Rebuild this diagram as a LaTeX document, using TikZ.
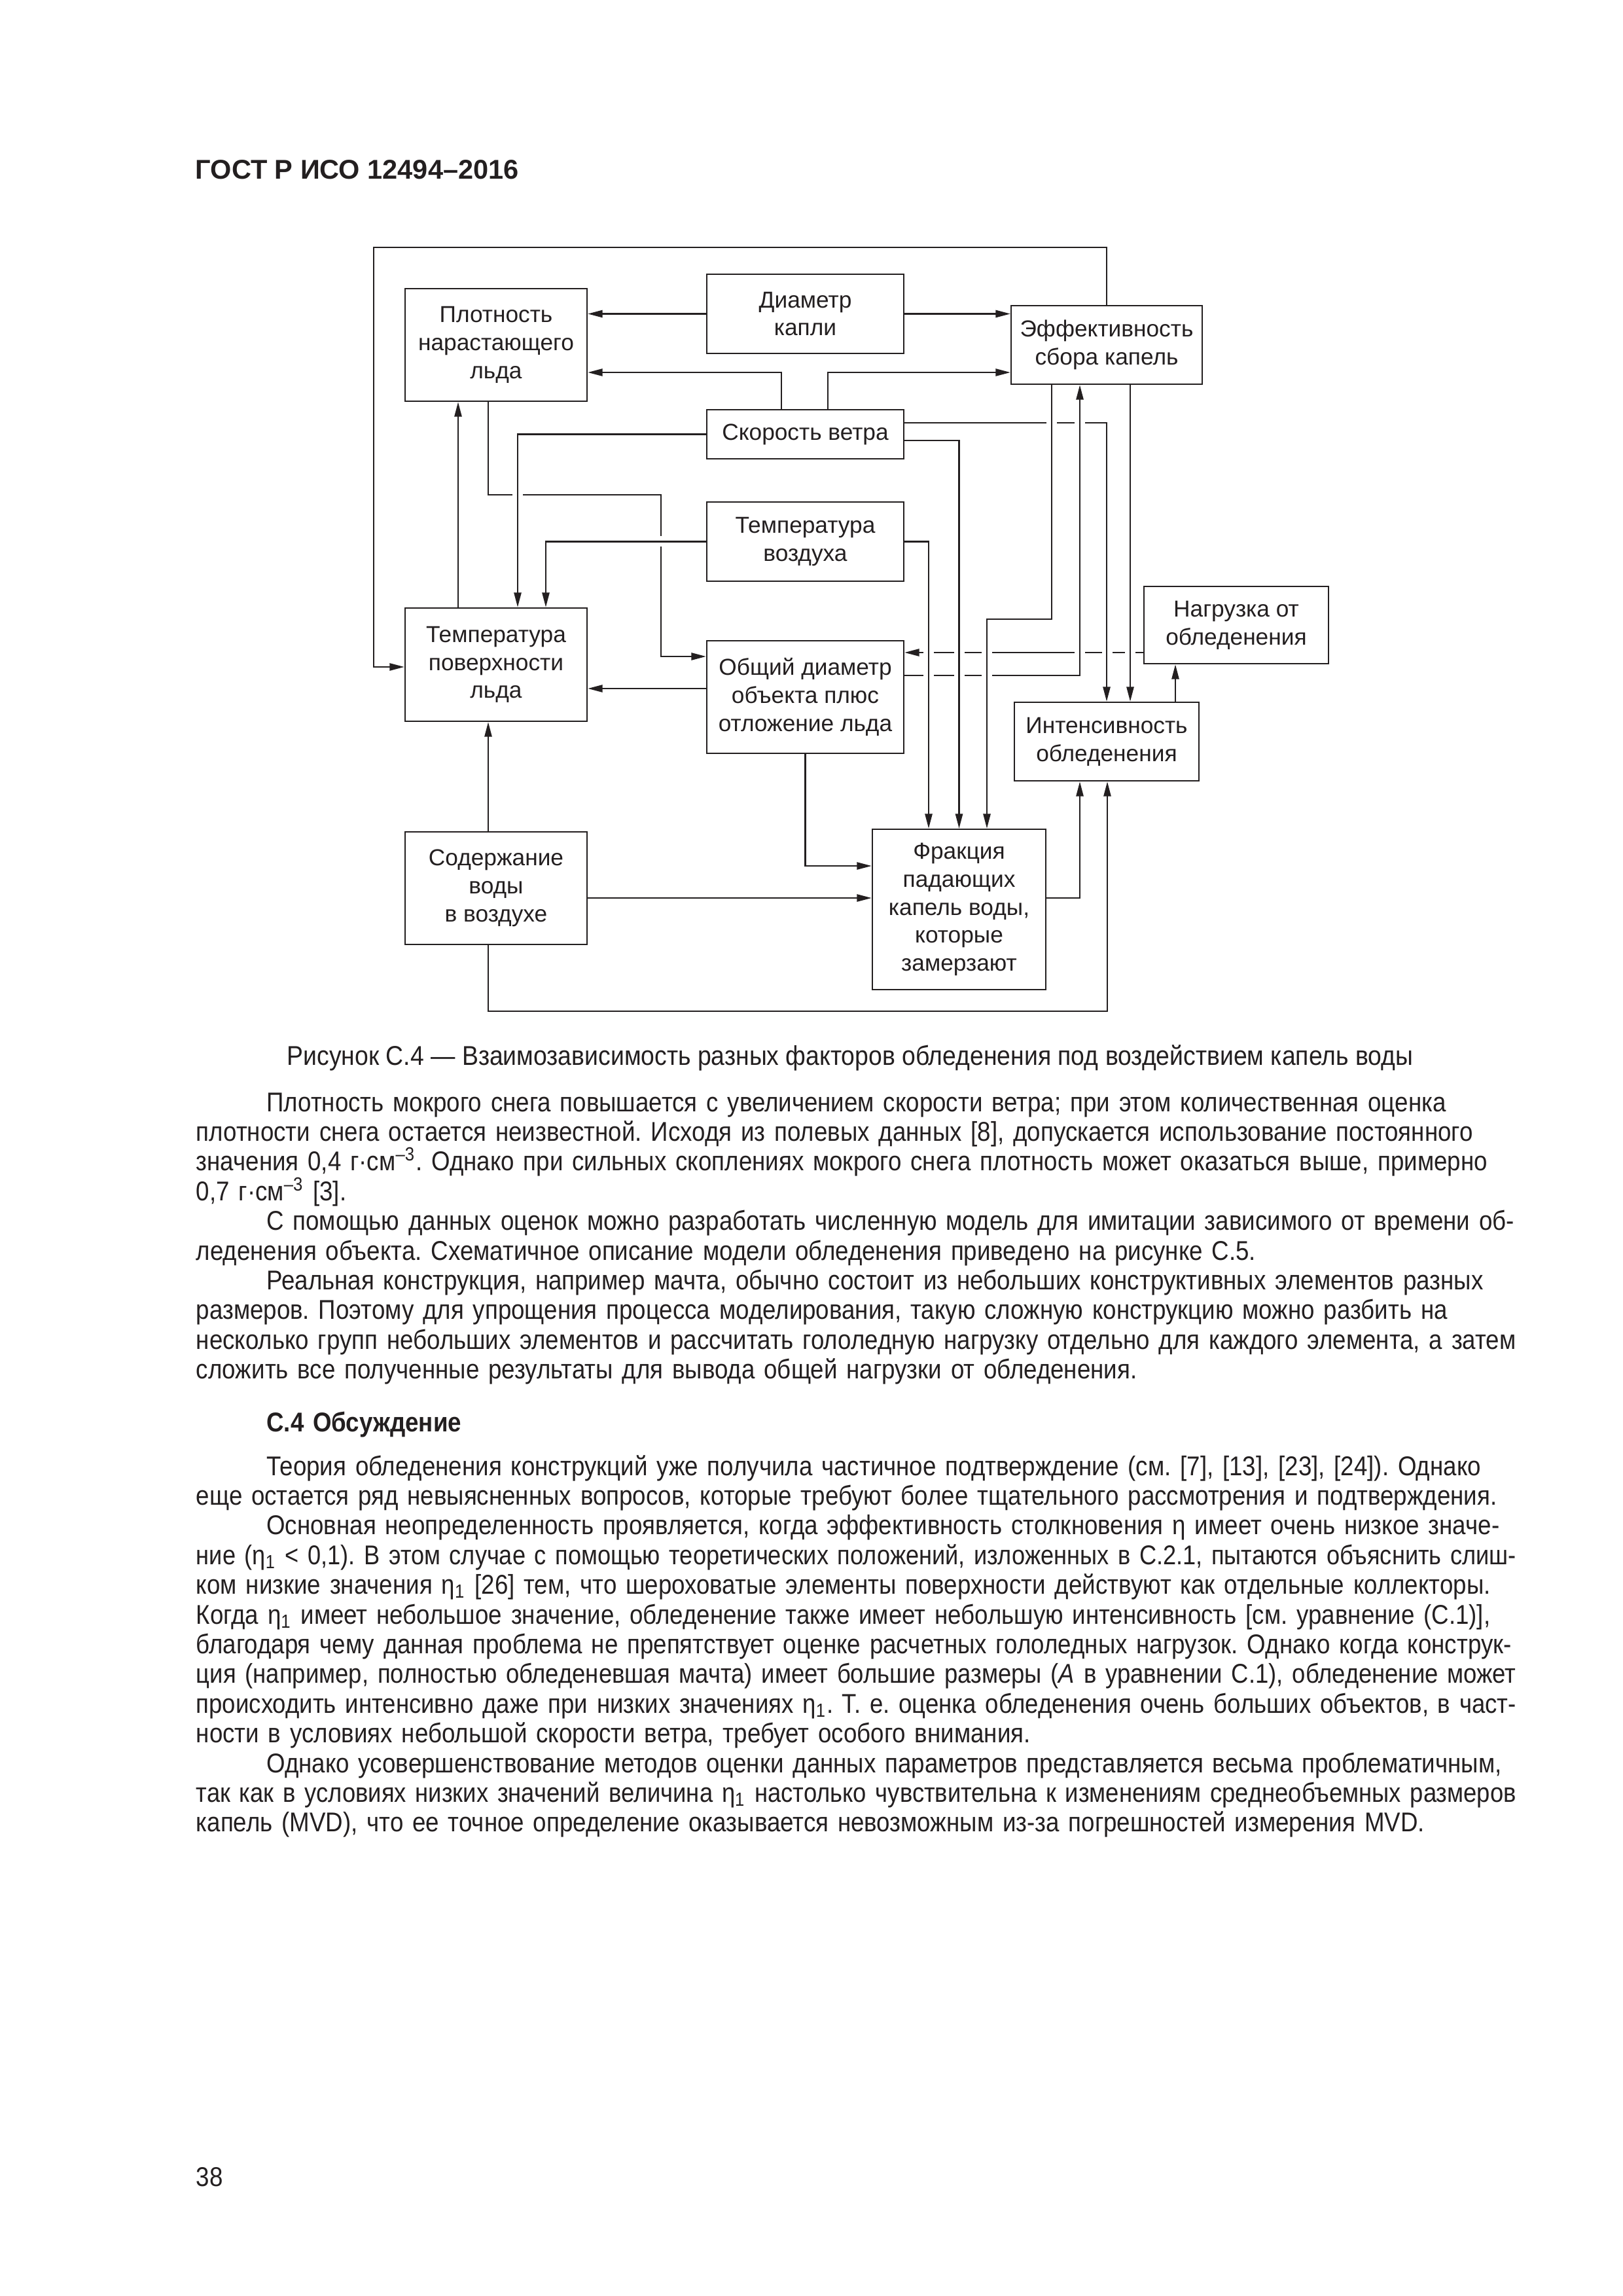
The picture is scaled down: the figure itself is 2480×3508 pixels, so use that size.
\documentclass[tikz,border=0pt]{standalone}
\usepackage{graphicx}
\usepackage{fontspec}
\setmainfont{Liberation Sans}
\newfontfamily\bodyfont[FakeStretch=0.884]{Liberation Sans}
\newfontfamily\captionfont[FakeStretch=0.9]{Liberation Sans}
\usetikzlibrary{arrows.meta}
\definecolor{ink}{HTML}{231F20}
\frenchspacing
\newlength\firstindent
\setlength\firstindent{9.1mm}
\newcommand\bodyspace{\spaceskip 0.24em plus 0.4em minus 0.08em\relax}
% one printed line of the page text, squeezed a little if it is too long
\newcommand\fitline[2]{\setbox0\hbox{\hskip#1#2}%
  \ifdim\wd0>\linewidth \hbox{\resizebox{\linewidth}{\height}{\box0}}%
  \else \hbox to\linewidth{\hskip#1#2}\fi}
\newcommand\iline[1]{\fitline{\firstindent}{#1}}
\newcommand\jline[1]{\fitline{0pt}{#1}}
\newcommand\eline[1]{\hbox to\linewidth{#1\hfil}}
% white break where a line passes under another one
\newcommand\hgap[2]{\fill[white] (#1-8,#2-4) rectangle (#1+8,#2+4);}
\newcommand\vgap[2]{\fill[white] (#1-4,#2-8) rectangle (#1+4,#2+8);}
\tikzset{
  box/.style={draw=ink, line width=0.6pt, align=center, inner sep=0pt,
    text=ink, font=\fontsize{8.5}{10.3}\selectfont},
  link/.style={draw=ink, line width=0.5pt, -{Triangle[length=1.9mm,width=0.95mm]}},
  pagetext/.style={text=ink, inner sep=0pt,
    font=\bodyfont\fontsize{10}{10.94}\selectfont\bodyspace}
}
\begin{document}
\begin{tikzpicture}[x=0.0846667mm, y=-0.0846667mm]
  \useasboundingbox (0,0) rectangle (2480,3508);
  \node[text=ink, inner sep=0pt, anchor=base west, font=\fontsize{10}{12}\selectfont\bfseries]
    (title) at (298,273) {ГОСТ Р ИСО 12494–2016};

  % blocks
  \node[box, minimum width=23.54mm, minimum height=14.56mm] (plot) at (758,527) {Плотность\\нарастающего\\льда};
  \node[box, minimum width=25.48mm, minimum height=10.24mm] (diam) at (1230.5,479.5) {Диаметр\\капли};
  \node[box, minimum width=24.72mm, minimum height=10.16mm] (eff) at (1691,527) {Эффективность\\сбора капель};
  \node[box, minimum width=25.48mm, minimum height=6.35mm] (wind) at (1230.5,663.5) {Скорость ветра};
  \node[box, minimum width=25.48mm, minimum height=10.24mm] (tair) at (1230.5,827.5) {Температура\\воздуха};
  \node[box, minimum width=23.54mm, minimum height=14.65mm] (tsurf) at (758,1015.5) {Температура\\поверхности\\льда};
  \node[box, minimum width=25.48mm, minimum height=14.56mm] (diamobj) at (1230.5,1065) {Общий диаметр\\объекта плюс\\отложение льда};
  \node[box, minimum width=23.88mm, minimum height=9.99mm] (load) at (1889,955) {Нагрузка от\\обледенения};
  \node[box, minimum width=23.88mm, minimum height=10.16mm] (rate) at (1691,1133) {Интенсивность\\обледенения};
  \node[box, minimum width=23.54mm, minimum height=14.56mm] (water) at (758,1357) {Содержание\\воды\\в воздухе};
  \node[box, minimum width=22.44mm, minimum height=20.74mm] (frac) at (1465.5,1389.5) {Фракция\\падающих\\капель воды,\\которые\\замерзают};

  \begin{scope}[link]
    % lines that are broken where others pass
    \draw (load.west |- 0,997) -- (diamobj.east |- 0,997);
    \hgap{1419}{997} \hgap{1466}{997} \hgap{1508}{997}
    \hgap{1650}{997} \hgap{1692}{997} \hgap{1727}{997}
    \draw (wind.east |- 0,646) -| (rate.north);
    \hgap{1607}{646} \hgap{1650}{646}
    \draw (diamobj.east |- 0,1032) -| (eff.south -| 1650,0);
    \hgap{1419}{1032} \hgap{1466}{1032} \hgap{1508}{1032}
    \draw (plot.south -| 746,0) |- (1010,756) |- (diamobj.west |- 0,1003);
    \hgap{791}{756} \vgap{1010}{827}
    % the others
    \draw (eff.north) |- (571,378) |- (tsurf.west |- 0,1019);
    \draw (diam.west) -- (diam.west -| plot.east);
    \draw (diam.east) -- (diam.east -| eff.west);
    \draw (wind.north -| 1194,0) |- (plot.east |- 0,569);
    \draw (wind.north -| 1265,0) |- (eff.west |- 0,569);
    \draw (wind.west) -| (tsurf.north -| 791,0);
    \draw (wind.east |- 0,673) -| (frac.north);
    \draw (tsurf.north -| 700,0) -- (plot.south -| 700,0);
    \draw (tair.west) -| (tsurf.north -| 834,0);
    \draw (tair.east) -| (frac.north -| 1419,0);
    \draw (diamobj.west |- 0,1052) -- (tsurf.east |- 0,1052);
    \draw (eff.south -| 1607,0) |- (1508,946) -- (frac.north -| 1508,0);
    \draw (eff.south -| 1727,0) -- (rate.north -| 1727,0);
    \draw (rate.north -| 1796,0) -- (load.south -| 1796,0);
    \draw (water.north -| 746,0) -- (tsurf.south -| 746,0);
    \draw (water.east |- 0,1372) -- (frac.west |- 0,1372);
    \draw (water.south -| 746,0) |- (1692,1545) -- (rate.south -| 1692,0);
    \draw (frac.east |- 0,1372) -| (rate.south -| 1650,0);
    \draw (diamobj.south) |- (frac.west |- 0,1323);
  \end{scope}

  \node[text=ink, inner sep=0pt, anchor=base, font=\captionfont\fontsize{10}{12}\selectfont] (caption) at (1299,1627)
    {Рисунок С.4 — Взаимозависимость разных факторов обледенения под воздействием капель воды};

  \node[pagetext, anchor=base west, text width=170.77mm] (body) at (299,1698) {%
    \iline{Плотность мокрого снега повышается с увеличением скорости ветра; при этом количественная оценка}
    \jline{плотности снега остается неизвестной. Исходя из полевых данных [8], допускается использование постоянного}
    \jline{значения 0,4 г·см\textsuperscript{–3}. Однако при сильных скоплениях мокрого снега плотность может оказаться выше, примерно}
    \eline{0,7 г·см\textsuperscript{–3} [3].}
    \iline{С помощью данных оценок можно разработать численную модель для имитации зависимого от времени об-}
    \eline{леденения объекта. Схематичное описание модели обледенения приведено на рисунке С.5.}
    \iline{Реальная конструкция, например мачта, обычно состоит из небольших конструктивных элементов разных}
    \jline{размеров. Поэтому для упрощения процесса моделирования, такую сложную конструкцию можно разбить на}
    \jline{несколько групп небольших элементов и рассчитать гололедную нагрузку отдельно для каждого элемента, а затем}
    \eline{сложить все полученные результаты для вывода общей нагрузки от обледенения.}
    \vskip 8.5pt
    \eline{\hskip\firstindent\textbf{C.4 Обсуждение}}
    \vskip 5.1pt
    \iline{Теория обледенения конструкций уже получила частичное подтверждение (см. [7], [13], [23], [24]). Однако}
    \eline{еще остается ряд невыясненных вопросов, которые требуют более тщательного рассмотрения и подтверждения.}
    \iline{Основная неопределенность проявляется, когда эффективность столкновения η имеет очень низкое значе-}
    \jline{ние (η\textsubscript{1} < 0,1). В этом случае с помощью теоретических положений, изложенных в С.2.1, пытаются объяснить слиш-}
    \jline{ком низкие значения η\textsubscript{1} [26] тем, что шероховатые элементы поверхности действуют как отдельные коллекторы.}
    \jline{Когда η\textsubscript{1} имеет небольшое значение, обледенение также имеет небольшую интенсивность [см. уравнение (С.1)],}
    \jline{благодаря чему данная проблема не препятствует оценке расчетных гололедных нагрузок. Однако когда конструк-}
    \jline{ция (например, полностью обледеневшая мачта) имеет большие размеры (\textit{A} в уравнении С.1), обледенение может}
    \jline{происходить интенсивно даже при низких значениях η\textsubscript{1}. Т. е. оценка обледенения очень больших объектов, в част-}
    \eline{ности в условиях небольшой скорости ветра, требует особого внимания.}
    \iline{Однако усовершенствование методов оценки данных параметров представляется весьма проблематичным,}
    \jline{так как в условиях низких значений величина η\textsubscript{1} настолько чувствительна к изменениям среднеобъемных размеров}
    \eline{капель (MVD), что ее точное определение оказывается невозможным из-за погрешностей измерения MVD.}
  };

  \node[pagetext, anchor=base west] (pagenum) at (299,3340) {38};
\end{tikzpicture}
\end{document}
